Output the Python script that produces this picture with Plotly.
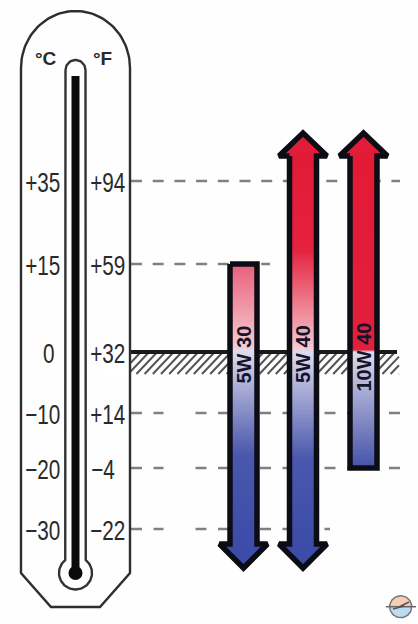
import numpy as np
import plotly.graph_objects as go

W, H = 418, 624

# ---- data ----
temps_c = [35, 15, 0, -10, -20, -30]
labels_c = ["+35", "+15", "0", "−10", "−20", "−30"]
labels_f = ["+94", "+59", "+32", "+14", "−4", "−22"]
level_pos = [181, 264, 352, 413, 468, 529]   # where each temperature sits on the printed scale
line_end = [400, 270, 400, 400, 400, 330]
label_c_center = [43, 43, 49, 43, 43, 43]
label_f_center = [108, 108, 108, 108, 103, 108]

oil_names = ["5W 30", "5W 40", "10W 40"]
oil_low = [None, None, -20]    # None = arrow: open-ended
oil_high = [15, None, None]
oil_center = [243.5, 303, 363.5]
oil_label_pos = [355, 354, 357]
oil_scales = [
    [(0, "#e8607c"), (0.295, "#f6c9d0"), (0.31, "#dedcec"), (0.68, "#4a57ad"), (1, "#3c4ca8")],
    [(0, "#e21a36"), (0.24, "#e4213e"), (0.49, "#f6c4cc"), (0.505, "#dedcec"), (0.78, "#4a57ad"), (1, "#3c4ca8")],
    [(0, "#e21a36"), (0.62, "#e2203c"), (0.63, "#dcdaec"), (1, "#4552a9")],
]
head_color_top = ["", "#e01c38", "#e01c38"]
head_color_bottom = ["#3c4ca8", "#3c4ca8", ""]


def temp_to_pos(t):
    return float(np.interp(-t, [-x for x in temps_c], level_pos))


def ln(x0, y0, x1, y1, color, width, dash="solid", layer="below"):
    return dict(type="line", x0=x0, y0=y0, x1=x1, y1=y1, layer=layer,
                line=dict(color=color, width=width, dash=dash))


shapes = []
# reference lines
for i, y in enumerate(level_pos):
    if temps_c[i] == 0:
        continue
    dash = "11px,10.7px" if temps_c[i] > 0 else "11px,11.5px,10px,32px"
    shapes.append(ln(131, y, line_end[i], y, "#808080", 2.4, dash))

# zero line with hatching
zero = level_pos[2]
hatch = ""
for x in np.arange(120, 400, 8.2):
    x0, x1 = x, x + 20
    if x1 > 399:
        x1 = 399
    hatch += f"M{x0:.1f},{zero + 22:.1f}L{x1:.1f},{zero + 22 - (x1 - x0) * 1.05:.1f}"
shapes.append(dict(type="path", path=hatch, layer="below", line=dict(color="#555555", width=2)))
shapes.append(dict(type="rect", x0=100, x1=131, y0=zero, y1=zero + 24, layer="below",
                   fillcolor="white", line=dict(width=0)))
shapes.append(ln(131, zero, 397, zero, "#1a1a1a", 4))

fig = go.Figure()

# thermometer
arc_t = np.linspace(np.pi, 0, 60)
body_x = list(75.5 + 54.5 * np.cos(arc_t)) + [130, 100, 51, 21, 21]
body_y = list(68 - 57 * np.sin(arc_t)) + [573, 607, 607, 573, 68]
fig.add_trace(go.Scatter(x=body_x, y=body_y, mode="lines", line=dict(color="#2e2e2e", width=2.4)))

tube_t = np.linspace(np.pi, 0, 30)
bulb_t = np.linspace(-0.9, np.pi + 0.9, 70)
tube_x = list(75.5 + 10 * np.cos(tube_t)) + list(75.5 + 16.5 * np.cos(bulb_t))
tube_y = list(70 - 10 * np.sin(tube_t)) + list(573 + 16.5 * np.sin(bulb_t))
tube_x.append(tube_x[0])
tube_y.append(tube_y[0])
fig.add_trace(go.Scatter(x=tube_x, y=tube_y, mode="lines", line=dict(color="#333333", width=2.4)))
fig.add_trace(go.Scatter(x=[75.5, 75.5], y=[76, 570], mode="lines", line=dict(color="#0a0a0a", width=8)))
fig.add_trace(go.Scatter(x=[75.5], y=[573], mode="markers", marker=dict(color="#0a0a0a", size=14)))

# oil grade arrows
half = 13.5
hw = 24
for i, name in enumerate(oil_names):
    cx = oil_center[i]
    top_flat = oil_high[i] is not None
    bottom_flat = oil_low[i] is not None
    y_top = temp_to_pos(oil_high[i]) if top_flat else 156
    y_bot = temp_to_pos(oil_low[i]) if bottom_flat else 544
    ys = np.linspace(y_top, y_bot, 240)
    frac = (ys - ys[0]) / (ys[-1] - ys[0])
    fig.add_trace(go.Heatmap(
        x=[cx - half / 2, cx + half / 2], y=ys, z=np.column_stack([frac, frac]),
        colorscale=[[a, c] for a, c in oil_scales[i]], zmin=0, zmax=1, showscale=False,
        hoverinfo="skip"))
    ox, oy = [], []
    if top_flat:
        ox += [cx - half, cx + half]
        oy += [y_top, y_top]
    else:
        fig.add_trace(go.Scatter(x=[cx - hw, cx, cx + hw], y=[y_top, 133, y_top], mode="lines",
                                 fill="toself", fillcolor=head_color_top[i], line=dict(width=0)))
        ox += [cx - half, cx - hw, cx, cx + hw, cx + half]
        oy += [y_top, y_top, 133, y_top, y_top]
    if bottom_flat:
        ox += [cx + half, cx - half]
        oy += [y_bot, y_bot]
    else:
        fig.add_trace(go.Scatter(x=[cx - hw, cx, cx + hw], y=[y_bot, 568, y_bot], mode="lines",
                                 fill="toself", fillcolor=head_color_bottom[i], line=dict(width=0)))
        ox += [cx + half, cx + hw, cx, cx - hw, cx - half]
        oy += [y_bot, y_bot, 568, y_bot, y_bot]
    ox.append(ox[0])
    oy.append(oy[0])
    fig.add_trace(go.Scatter(x=ox, y=oy, mode="lines", line=dict(color="#0c0c14", width=5.5)))

# logo
t = np.linspace(0, np.pi, 40)
fig.add_trace(go.Scatter(x=list(400.7 + 11 * np.cos(t)), y=list(606.7 - 11 * np.sin(t)), mode="lines",
                         fill="toself", fillcolor="#f7cdb4", line=dict(width=0)))
fig.add_trace(go.Scatter(x=list(400.7 + 11 * np.cos(t)), y=list(606.7 + 11 * np.sin(t)), mode="lines",
                         fill="toself", fillcolor="#bcdcf2", line=dict(width=0)))
t2 = np.linspace(0, 2 * np.pi, 80)
fig.add_trace(go.Scatter(x=list(400.7 + 11 * np.cos(t2)), y=list(606.7 + 11 * np.sin(t2)), mode="lines",
                         line=dict(color="#777777", width=1.5)))
fig.add_trace(go.Scatter(x=[386, 416], y=[606.7, 606.7], mode="lines", line=dict(color="#666666", width=1.5)))
fig.add_trace(go.Scatter(x=[393, 404, 399, 409], y=[609, 606, 607, 602], mode="lines",
                         line=dict(color="#555555", width=1.5)))

# texts
ann = []
FONT = "Liberation Sans"


def txt(x, y, s, size, angle=0, color="#2a2a2a"):
    ann.append(dict(x=x, y=y, text=s, showarrow=False, xanchor="center", yanchor="middle", textangle=angle,
                    font=dict(family=FONT, size=size, color=color)))


for i in range(len(temps_c)):
    txt(label_c_center[i], level_pos[i] + 1, labels_c[i], 28)
    txt(label_f_center[i], level_pos[i] + 1, labels_f[i], 28)
txt(45.5, 58, "<b>°C</b>", 19)
txt(102, 58, "<b>°F</b>", 19)
for i, name in enumerate(oil_names):
    txt(oil_center[i], oil_label_pos[i], f"<b>{name}</b>", 20, angle=-90, color="#14142a")

fig.update_traces(hoverinfo="skip", selector=dict(type="scatter"))
fig.update_layout(
    width=W, height=H, margin=dict(l=0, r=0, t=0, b=0), showlegend=False,
    paper_bgcolor="#fefefe", plot_bgcolor="#fefefe", shapes=shapes, annotations=ann,
    xaxis=dict(range=[0, W], visible=False, fixedrange=True),
    yaxis=dict(range=[H, 0], visible=False, fixedrange=True),
)
narrow = """
document.body.style.margin='0';
document.querySelectorAll('.annotation-text').forEach(function(el){
  if(/^[+\\u2212]?\\d+$/.test(el.textContent)){
    el.setAttribute('textLength', el.getComputedTextLength()*0.74);
    el.setAttribute('lengthAdjust','spacingAndGlyphs');
  }
});
"""
fig.write_html("out.html", config=dict(displayModeBar=False), post_script=narrow)
